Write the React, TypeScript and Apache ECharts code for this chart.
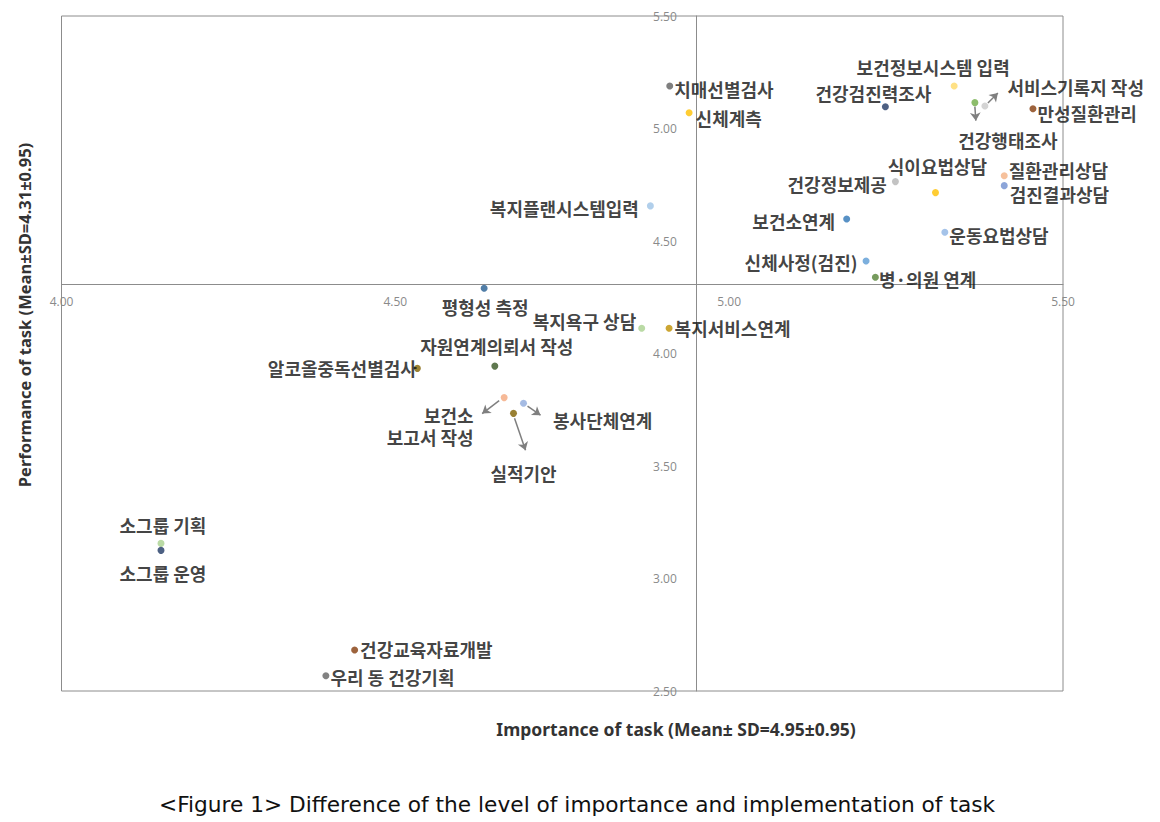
import React, { useEffect, useRef } from "react";
import * as echarts from "echarts";

// ---- data ----
const taskNames: string[] = [
  "치매선별검사", "신체계측", "복지플랜시스템입력", "보건정보시스템 입력", "건강검진력조사",
  "건강행태조사", "서비스기록지 작성", "만성질환관리", "식이요법상담", "건강정보제공",
  "질환관리상담", "검진결과상담", "보건소연계", "운동요법상담", "신체사정(검진)",
  "병·의원 연계", "평형성 측정", "복지욕구 상담", "복지서비스연계", "자원연계의뢰서 작성",
  "알코올중독선별검사", "보건소\n보고서 작성", "봉사단체연계", "실적기안", "소그룹 기획",
  "소그룹 운영", "건강교육자료개발", "우리 동 건강기획",
];
const importance: number[] = [
  4.911, 4.940, 4.882, 5.337, 5.234,
  5.368, 5.383, 5.455, 5.309, 5.249,
  5.412, 5.412, 5.176, 5.323, 5.205,
  5.219, 4.633, 4.869, 4.910, 4.649,
  4.533, 4.663, 4.692, 4.677, 4.149,
  4.149, 4.439, 4.396,
];
const performance: number[] = [
  5.189, 5.070, 4.656, 5.189, 5.097,
  5.115, 5.100, 5.088, 4.715, 4.764,
  4.790, 4.746, 4.598, 4.539, 4.411,
  4.339, 4.290, 4.112, 4.112, 3.944,
  3.934, 3.804, 3.779, 3.734, 3.156,
  3.125, 2.682, 2.568,
];
const xTicks = { min: 4.0, max: 5.5, step: 0.5 };
const yTicks = { min: 2.5, max: 5.5, step: 0.5 };
const meanImportance = 4.95;
const meanPerformance = 4.31;
const xTitle = "Importance of task (Mean± SD=4.95±0.95)";
const yTitle = "Performance of task (Mean±SD=4.31±0.95)";
const caption = "<Figure 1> Difference of the level of importance and implementation of task";

// ---- styles (colours, label placement in px, arrows in px) ----
const pointColors: string[] = [
  "#5f5f5f", "#ffc000", "#9dc3e6", "#ffd966", "#203864",
  "#70ad47", "#c9c9c9", "#843c0c", "#ffc000", "#b4b4b4",
  "#f4b183", "#6f8fd0", "#2e75b6", "#8fb4e3", "#5b9bd5",
  "#548235", "#255e91", "#a9d18e", "#bf9000", "#375623",
  "#7f6000", "#f4a77d", "#8faadc", "#7f6000", "#a9d18e",
  "#1f3864", "#843c0c", "#636363",
];
type LP = { pos: string; dx: number; dy: number; dist: number };
const labelPlace: LP[] = [
  { pos: "right", dx: 0, dy: 3, dist: 1 },
  { pos: "right", dx: 0, dy: 5, dist: 3 },
  { pos: "left", dx: 0, dy: 2, dist: 8 },
  { pos: "top", dx: -21, dy: 0, dist: 5 },
  { pos: "top", dx: -12, dy: 5, dist: 5 },
  { pos: "bottom", dx: 33, dy: 19, dist: 5 },
  { pos: "right", dx: 14, dy: -19, dist: 5 },
  { pos: "right", dx: 0, dy: 4, dist: 1 },
  { pos: "top", dx: 2, dy: -8, dist: 5 },
  { pos: "left", dx: 0, dy: 2, dist: 5 },
  { pos: "right", dx: 0, dy: -6, dist: 1 },
  { pos: "right", dx: 0, dy: 8, dist: 2 },
  { pos: "left", dx: 0, dy: 2, dist: 8 },
  { pos: "right", dx: 0, dy: 3, dist: 1 },
  { pos: "left", dx: 0, dy: 1, dist: 5 },
  { pos: "right", dx: 0, dy: 2, dist: 0 },
  { pos: "bottom", dx: 1, dy: 0, dist: 5 },
  { pos: "left", dx: 0, dy: -7, dist: 2 },
  { pos: "right", dx: 0, dy: 0, dist: 2 },
  { pos: "top", dx: 2, dy: -2, dist: 5 },
  { pos: "left", dx: 0, dy: 0, dist: -3 },
  { pos: "left", dx: -22, dy: 28, dist: 5 },
  { pos: "right", dx: 21, dy: 17, dist: 5 },
  { pos: "bottom", dx: 10, dy: 41, dist: 5 },
  { pos: "top", dx: 2, dy: 0, dist: 5 },
  { pos: "bottom", dx: 2, dy: 4, dist: 5 },
  { pos: "right", dx: 0, dy: -1, dist: 2 },
  { pos: "right", dx: 0, dy: 1, dist: 1 },
];
// arrows: index of point, start offset px, end offset px
const arrows: { i: number; s: [number, number]; e: [number, number] }[] = [
  { i: 6, s: [3, -3], e: [13, -13] },
  { i: 5, s: [0, 4], e: [1, 18] },
  { i: 21, s: [-5, 3], e: [-22, 16] },
  { i: 22, s: [4, 3], e: [17, 12] },
  { i: 23, s: [1, 5], e: [12, 37] },
];

const W = 1160;
const H = 822;
const grid = { left: 61.5, top: 16, width: 1001.5, height: 675 };

export default function App() {
  const ref = useRef<HTMLDivElement>(null);
  useEffect(() => {
    if (!ref.current) return;
    const chart = echarts.init(ref.current, null, { renderer: "svg" });
    const xPerPx = (xTicks.max - xTicks.min) / grid.width;
    const yPerPx = (yTicks.max - yTicks.min) / grid.height;
    const xOffset = -((meanImportance - xTicks.min) / (xTicks.max - xTicks.min)) * grid.width;
    const yOffset = -((meanPerformance - yTicks.min) / (yTicks.max - yTicks.min)) * grid.height;

    const data = taskNames.map((n, i) => {
      const lp = labelPlace[i];
      return {
        name: n,
        value: [importance[i], performance[i]],
        itemStyle: { color: pointColors[i] },
        label: {
          show: true,
          position: lp.pos,
          distance: lp.dist,
          formatter: "{b}",
          lineHeight: n.indexOf("\n") >= 0 ? 22 : 20,
        },
      };
    });

    const arrowLines = arrows.map((a) => {
      const x = importance[a.i];
      const y = performance[a.i];
      return [
        { coord: [x + a.s[0] * xPerPx, y - a.s[1] * yPerPx] },
        { coord: [x + a.e[0] * xPerPx, y - a.e[1] * yPerPx] },
      ];
    });

    const axisColor = "#8c8c8c";
    chart.setOption({
      animation: false,
      backgroundColor: "#ffffff",
      grid: {
        left: grid.left,
        top: grid.top,
        width: grid.width,
        height: grid.height,
        show: true,
        borderColor: axisColor,
        borderWidth: 1,
        backgroundColor: "transparent",
      },
      xAxis: {
        type: "value",
        min: xTicks.min,
        max: xTicks.max,
        interval: xTicks.step,
        position: "bottom",
        offset: yOffset,
        axisLine: { show: true, onZero: false, lineStyle: { color: axisColor, width: 1 } },
        axisTick: { show: false },
        splitLine: { show: false },
        axisLabel: {
          color: "#8a8a8a",
          fontSize: 12,
          fontFamily: "Open Sans",
          margin: 12,
          showMinLabel: true,
          showMaxLabel: true,
          formatter: (v: number) => v.toFixed(2),
        },
      },
      yAxis: {
        type: "value",
        min: yTicks.min,
        max: yTicks.max,
        interval: yTicks.step,
        position: "left",
        offset: xOffset,
        axisLine: { show: true, onZero: false, lineStyle: { color: axisColor, width: 1 } },
        axisTick: { show: false },
        splitLine: { show: false },
        axisLabel: {
          color: "#8a8a8a",
          fontSize: 12,
          fontFamily: "Open Sans",
          margin: 19,
          showMinLabel: true,
          showMaxLabel: true,
          formatter: (v: number) => v.toFixed(2),
        },
      },
      series: [
        {
          type: "scatter",
          symbolSize: 7,
          data,
          label: {
            color: "#111111",
            fontSize: 18,
            fontWeight: "bold",
            fontFamily: "Noto Sans CJK KR",
            lineHeight: 20,
          },
          labelLayout: (p: any) => {
            const lp = labelPlace[p.dataIndex];
            return { dx: lp.dx, dy: lp.dy, hideOverlap: false };
          },
          markLine: {
            silent: true,
            symbol: ["none", "arrow"],
            symbolSize: 8,
            label: { show: false },
            lineStyle: { color: "#7f7f7f", width: 1.5, type: "solid" },
            data: arrowLines,
          },
        },
      ],
      graphic: [
        {
          type: "text",
          x: 676,
          y: 729,
          style: {
            text: xTitle,
            font: "bold 17.5px 'Noto Sans'",
            fill: "#333333",
            align: "center",
            verticalAlign: "middle",
          },
        },
        {
          type: "text",
          x: 24,
          y: 315,
          rotation: Math.PI / 2,
          style: {
            text: yTitle,
            font: "bold 16.5px 'Noto Sans'",
            fill: "#333333",
            align: "center",
            verticalAlign: "middle",
          },
        },
        {
          type: "text",
          x: 577,
          y: 804,
          style: {
            text: caption,
            font: "21.7px 'DejaVu Sans'",
            fill: "#111111",
            align: "center",
            verticalAlign: "middle",
          },
        },
      ],
    });
    return () => chart.dispose();
  }, []);
  return (
    <div
      ref={ref}
      style={{ position: "fixed", left: 0, top: 0, width: W, height: H, background: "#fff" }}
    />
  );
}
